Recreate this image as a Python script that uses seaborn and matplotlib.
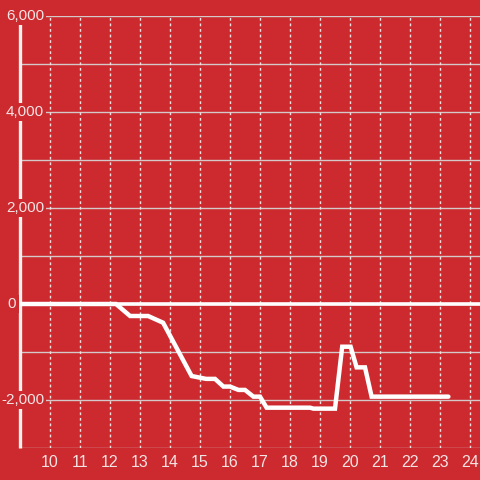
import matplotlib
matplotlib.use("Agg")
import matplotlib.pyplot as plt
import matplotlib.transforms as mtransforms
import seaborn as sns
import pandas as pd

# data
hours = [9.0, 12.2, 12.67, 13.27, 13.77, 14.72, 15.2, 15.5, 15.78, 16.0, 16.28, 16.5,
         16.78, 17.0, 17.22, 18.67, 18.78, 19.5, 19.74, 20.02, 20.22, 20.5, 20.72, 23.28]
values = [0, 0, -250, -250, -390, -1500, -1560, -1560, -1720, -1720, -1790, -1790,
          -1930, -1930, -2160, -2160, -2180, -2180, -890, -890, -1320, -1320, -1930, -1930]
x_ticks = list(range(10, 25))
y_label_values = [6000, 4000, 2000, 0, -2000]
y_grid_values = [6000, 5000, 4000, 3000, 2000, 1000, 0, -1000, -2000, -3000]

BG = "#cc2a2f"
TXT = "#f3e4e4"

sns.set_style("white")
plt.rcParams["font.family"] = ["Liberation Sans", "DejaVu Sans"]

fig = plt.figure(figsize=(4.8, 4.8), dpi=100, facecolor=BG)
ax = fig.add_axes([20/480, 32/480, 460/480, 432/480])
ax.set_facecolor(BG)

df = pd.DataFrame({"hour": hours, "value": values})

ax.set_xlim(9, 9 + 460/30)
ax.set_ylim(-3000, 6000)

# gridlines
for v in y_grid_values:
    ax.axhline(v, color="#d4c8c8", lw=1.0, zorder=1)
for t in x_ticks:
    ax.axvline(t, color="#f0e0e0", lw=1.0, ls=(0, (2, 2)), zorder=1)
ax.axhline(0, color="white", lw=2.6, zorder=2)

sns.lineplot(data=df, x="hour", y="value", ax=ax, color="white", lw=3.2,
             zorder=4, solid_joinstyle="miter")

for s in ["top", "right", "bottom"]:
    ax.spines[s].set_visible(False)
ax.spines["left"].set_color("#f5f0f0")
ax.spines["left"].set_linewidth(2.4)
ax.spines["left"].set_zorder(3)
ax.spines["left"].set_capstyle("butt")

ax.set_yticks([])
ax.set_xticks(x_ticks)
ax.set_xticklabels([str(t) for t in x_ticks], color=TXT, fontsize=11.5)
ax.tick_params(axis="x", length=0, pad=5)
ax.set_xlabel("")
ax.set_ylabel("")

trans = mtransforms.blended_transform_factory(ax.transAxes, ax.transData)
for v in y_label_values:
    lab = f"{v:,}"
    if v == 0:
        xpos, ha = (12 - 20) / 460, "center"
    else:
        xpos, ha = (44 - 20) / 460, "right"
    ax.text(xpos, v, lab, transform=trans, ha=ha, va="center", color=TXT,
            fontsize=11, zorder=6,
            bbox=dict(boxstyle="square,pad=0.15", fc=BG, ec="none"))

fig.savefig("out.png", dpi=100, facecolor=BG)
